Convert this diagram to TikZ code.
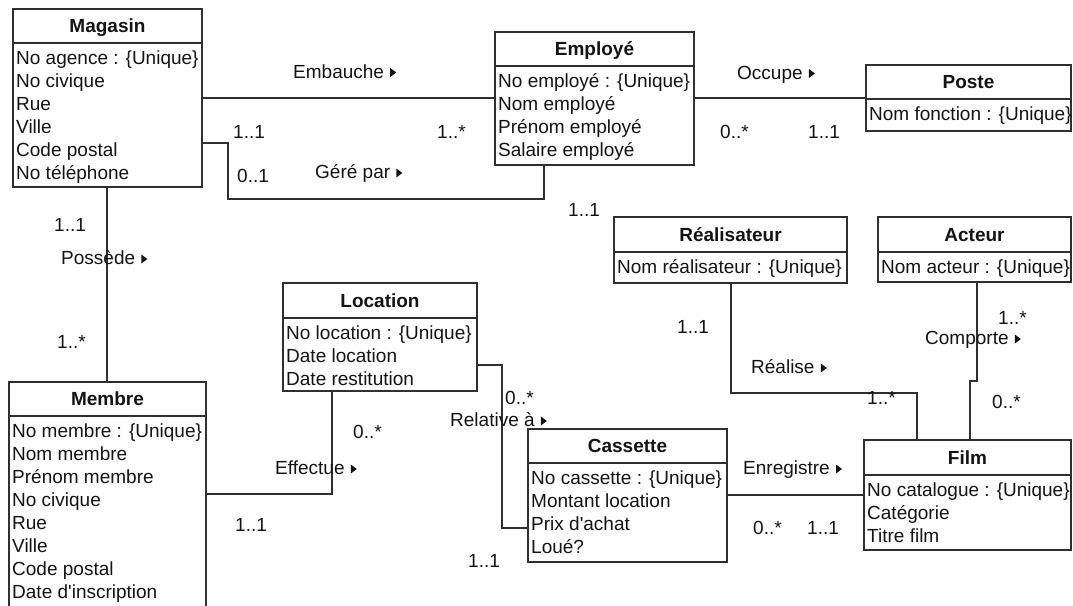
\documentclass[tikz,border=0pt]{standalone}
\usepackage{fontspec}
\setmainfont{Liberation Sans}
\definecolor{ink}{HTML}{141414}
\definecolor{wire}{HTML}{303030}
\tikzset{
  classbox/.style={draw=wire, line width=1.6pt, inner sep=0pt, outer sep=0pt, anchor=north west},
  divider/.style={draw=wire, line width=1.6pt},
  ctitle/.style={anchor=base, inner sep=0pt, font=\fontsize{19}{23}\selectfont\bfseries, text=ink},
  attr/.style={anchor=base west, inner sep=0pt, text=ink},
  mult/.style={anchor=base west, inner sep=0pt, text=ink},
  link/.style={draw=wire, line width=1.6pt},
}
% class box: name, left, top, right, divider, bottom, title, attributes
\newcommand\umlclass[8]{%
  \pgfmathsetmacro\cw{#4-#2}\pgfmathsetmacro\ch{#6-#3}%
  \node[classbox, minimum width=\cw pt, minimum height=\ch pt] (#1) at (#2,#3) {};
  \draw[divider] (#2,#5) -- (#4,#5);
  \node[ctitle] (#1-t) at ({(#2+#4)/2},{(#3+#5)/2+6.5}) {#7};
  \foreach \attrline [count=\k from 0] in {#8}
    \node[attr] (#1-a\k) at ({#2+3},{#5+21+23*\k}) {\attrline};
}
% association name followed by its reading-direction triangle
\newcommand\rolelabel[4]{%
  \node[mult] (#1) at (#2,#3) {#4};
  \fill[ink] ([xshift=6pt,yshift=1pt]#1.base east) -- ++(0,-9) -- ++(6,4.5) -- cycle;
}
\begin{document}
\begin{tikzpicture}[x=1pt, y=-1pt, font=\fontsize{19}{23}\selectfont]
\useasboundingbox[fill=white] (0,0) rectangle (1073,605);

\umlclass{mag}{13}{9}{202}{43}{187}{Magasin}{No agence : \{Unique\},No civique,Rue,Ville,Code postal,No téléphone}
\umlclass{emp}{495}{32}{694}{66}{165}{Employé}{No employé : \{Unique\},Nom employé,Prénom employé,Salaire employé}
\umlclass{poste}{866}{65}{1071}{99}{131}{Poste}{Nom fonction : \{Unique\}}
\umlclass{real}{614}{217}{847}{252}{283}{Réalisateur}{Nom réalisateur : \{Unique\}}
\umlclass{act}{878}{217}{1071}{252}{282}{Acteur}{Nom acteur : \{Unique\}}
\umlclass{loc}{283}{283}{477}{318}{391}{Location}{No location : \{Unique\},Date location,Date restitution}
\umlclass{mem}{9}{382}{206}{416}{620}{Membre}{No membre : \{Unique\},Nom membre,Prénom membre,No civique,Rue,Ville,Code postal,Date d\textquotesingle inscription}
\umlclass{cas}{528}{429}{727}{463}{562}{Cassette}{No cassette : \{Unique\},Montant location,Prix d\textquotesingle achat,Loué?}
\umlclass{film}{864}{440}{1071}{475}{550}{Film}{No catalogue : \{Unique\},Catégorie,Titre film}

% associations
\draw[link] (mag.east |- 0,98) -- (emp.west |- 0,98);
\draw[link] (mag.east |- 0,143) -- ++(26,0) |- ++(316,56) -- (emp.south -| 544,0);
\draw[link] (emp.east |- 0,98) -- (poste.west |- 0,98);
\draw[link] (mag.south -| 107,0) -- (mem.north -| 107,0);
\draw[link] (mem.east |- 0,494) -| (loc.south -| 332,0);
\draw[link] (loc.east |- 0,365) -- ++(25,0) |- (cas.west |- 0,528);
\draw[link] (cas.east |- 0,495) -- (film.west |- 0,495);
\draw[link] (real.south -| 731,0) -- (731,393) -| (film.north -| 917,0);
\draw[link] (act.south -| 977,0) -- (977,381) -- (970,381) -- (film.north -| 970,0);

% association names
\rolelabel{lEmb}{293}{78}{Embauche}
\rolelabel{lGere}{315}{178.5}{Géré par}
\rolelabel{lOcc}{737}{79}{Occupe}
\rolelabel{lPos}{61}{264.5}{Possède}
\rolelabel{lEff}{275}{474.5}{Effectue}
\rolelabel{lRel}{450}{426.5}{Relative à}
\rolelabel{lEnr}{743}{474.5}{Enregistre}
\rolelabel{lRea}{751}{373.5}{Réalise}
\rolelabel{lCom}{925}{344.5}{Comporte}

% multiplicities
\node[mult] (m1) at (233,138) {1..1};
\node[mult] (m2) at (437,138) {1..*};
\node[mult] (m3) at (237,182) {0..1};
\node[mult] (m4) at (568,216) {1..1};
\node[mult] (m5) at (720,138.5) {0..*};
\node[mult] (m6) at (808,138.5) {1..1};
\node[mult] (m7) at (54,231.5) {1..1};
\node[mult] (m8) at (57,348) {1..*};
\node[mult] (m9) at (353,438.5) {0..*};
\node[mult] (m10) at (235,531.5) {1..1};
\node[mult] (m11) at (505,404.5) {0..*};
\node[mult] (m12) at (468,567.5) {1..1};
\node[mult] (m13) at (753,534.5) {0..*};
\node[mult] (m14) at (807,534.5) {1..1};
\node[mult] (m15) at (677,333.5) {1..1};
\node[mult] (m16) at (867,404.5) {1..*};
\node[mult] (m17) at (998,324.5) {1..*};
\node[mult] (m18) at (992,408.5) {0..*};
\end{tikzpicture}
\end{document}
